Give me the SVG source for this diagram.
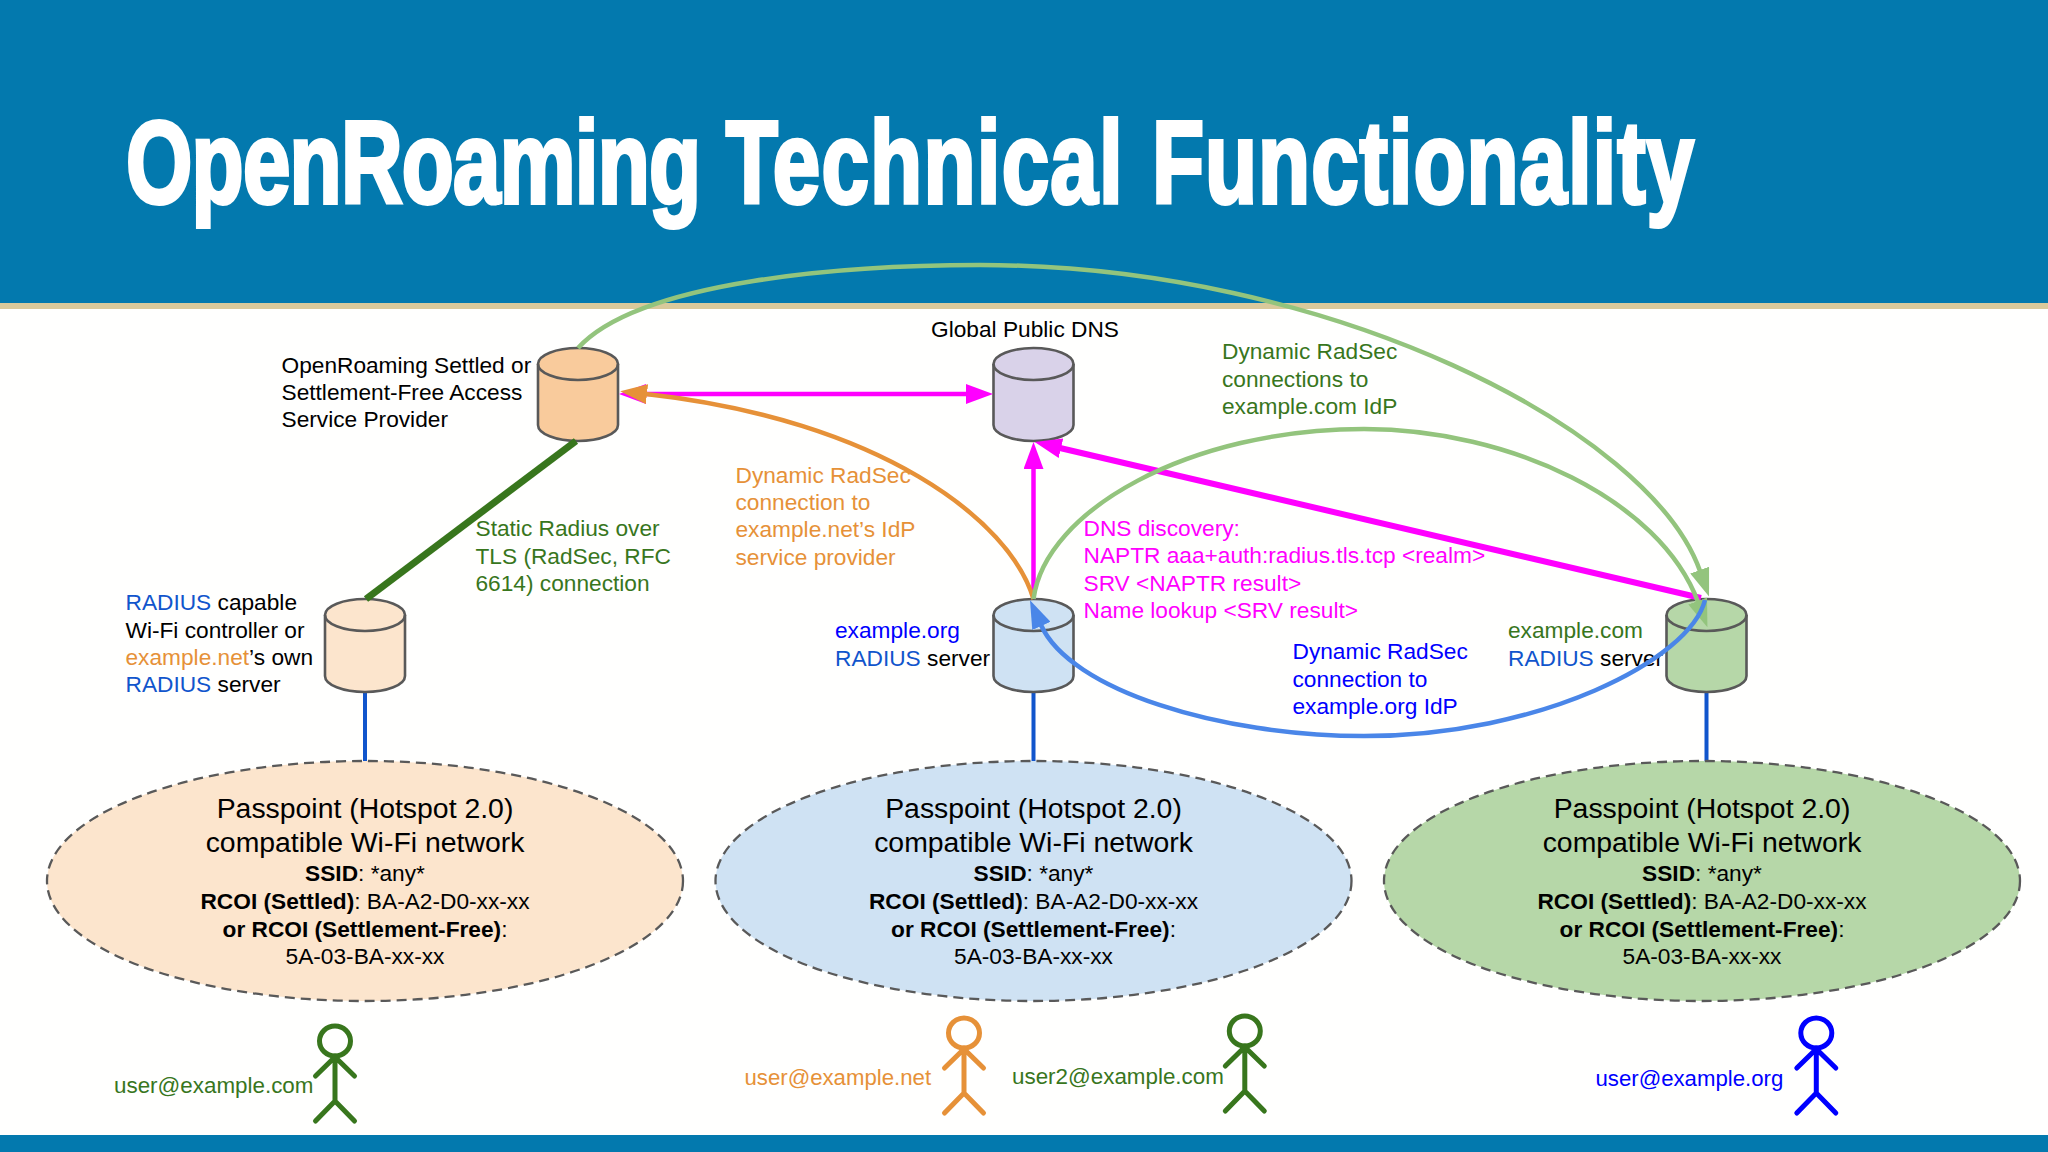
<svg xmlns="http://www.w3.org/2000/svg" width="2048" height="1152" viewBox="0 0 2048 1152">
<style>
text{font-family:"Liberation Sans",Arial,sans-serif;font-size:22.7px;fill:#000}
.title{font-size:116px;font-weight:700;fill:#fff;stroke:#fff;stroke-width:4px}
.big{font-size:28.4px;text-anchor:middle}
.mid{text-anchor:middle}
.b{font-weight:700}
.u{font-size:22.2px}
.uc{font-size:22.4px}
.dg{fill:#38761d}.or{fill:#e69138}.rb{fill:#1155cc}.bl{fill:#0000ff}.mg{fill:#ff00ff}
#cylinder path{stroke:#595959;stroke-width:2.6}
#cylinder .lid{fill:none}
.net{stroke:#595959;stroke-width:2.3;stroke-dasharray:10 6}
#person ellipse,#person path{fill:none;stroke-width:5;stroke-linecap:round}
.arc{fill:none;stroke-width:4.5}
</style>
<defs>
<g id="cylinder"><path d="M-40 16A40 16 0 0 1 40 16V77A40 16 0 0 1-40 77Z"/><path class="lid" d="M-40 16A40 16 0 0 0 40 16"/></g>
<g id="person"><ellipse cx="0" cy="0" rx="15.5" ry="15"/><path d="M0 15V60M-19.500 35L0 16L19.500 35M-19.500 80L0 60L19.500 80"/></g>
<marker id="hMag" markerUnits="userSpaceOnUse" markerWidth="27" markerHeight="20" viewBox="0 0 27 20" refX="1" refY="10" orient="auto-start-reverse"><path d="M0 0L27 10L0 20Z" fill="#ff00ff"/></marker>
<marker id="hOr" markerUnits="userSpaceOnUse" markerWidth="27" markerHeight="20" viewBox="0 0 27 20" refX="1" refY="10" orient="auto"><path d="M0 0L27 10L0 20Z" fill="#e69138"/></marker>
<marker id="hGr" markerUnits="userSpaceOnUse" markerWidth="28" markerHeight="20" viewBox="0 0 28 20" refX="1" refY="10" orient="auto"><path d="M0 0L28 10L0 20Z" fill="#93c47d"/></marker>
<marker id="hBl" markerUnits="userSpaceOnUse" markerWidth="28" markerHeight="20" viewBox="0 0 28 20" refX="1" refY="10" orient="auto"><path d="M0 0L28 10L0 20Z" fill="#4a86e8"/></marker>
</defs>
<rect width="2048" height="1152" fill="#fffffe"/>
<rect width="2048" height="303" fill="#0379ae"/>
<rect y="303" width="2048" height="6" fill="#d9c99b"/>
<rect y="1135" width="2048" height="17" fill="#0379ae"/>
<text id="title" class="title" transform="translate(126 203) scale(.735 1)"><tspan x="0" letter-spacing="-1">OpenRoaming</tspan> <tspan x="816" letter-spacing="1.700">Technical</tspan> <tspan x="1396" letter-spacing="1.300">Functionality</tspan></text>

<g id="connections-static">
<path d="M365 692V762M1033.500 692V762M1706.500 692V762" fill="none" stroke="#1155cc" stroke-width="4"/>
</g>

<g id="provider"><use href="#cylinder" x="578" y="348" fill="#f9cb9c"/>
<text x="281.500" y="373">OpenRoaming Settled or</text><text x="281.500" y="400">Settlement-Free Access</text><text x="281.500" y="427">Service Provider</text></g>
<g id="dns"><use href="#cylinder" x="1033.500" y="348" fill="#d9d2e9"/>
<text class="mid" x="1025" y="337">Global Public DNS</text></g>
<g id="controller"><use href="#cylinder" x="365" y="599" fill="#fce5cd"/>
<text x="125.500" y="610"><tspan class="rb">RADIUS</tspan> capable</text><text x="125.500" y="637.500">Wi-Fi controller or</text><text x="125.500" y="665"><tspan class="or">example.net</tspan>’s own</text><text x="125.500" y="692"><tspan class="rb">RADIUS</tspan> server</text></g>
<g id="org-radius"><use href="#cylinder" x="1033.500" y="599" fill="#cfe2f3"/>
<text x="835" y="638" class="bl">example.org</text><text x="835" y="666"><tspan class="rb">RADIUS</tspan> server</text></g>
<g id="com-radius"><use href="#cylinder" x="1706.500" y="599" fill="#b6d7a8"/>
<text x="1508" y="638" class="dg">example.com</text><text x="1508" y="666"><tspan class="rb">RADIUS</tspan> server</text></g>

<g id="net-net"><ellipse class="net" cx="365" cy="881" rx="318" ry="120" fill="#fce5cd"/>
<text class="big" x="365" y="818">Passpoint (Hotspot 2.0)</text><text class="big" x="365" y="852">compatible Wi-Fi network</text>
<text class="mid" x="365" y="881"><tspan class="b">SSID</tspan>: *any*</text><text class="mid" x="365" y="909"><tspan class="b">RCOI (Settled)</tspan>: BA-A2-D0-xx-xx</text><text class="mid" x="365" y="937"><tspan class="b">or RCOI (Settlement-Free)</tspan>:</text><text class="mid" x="365" y="964">5A-03-BA-xx-xx</text></g>
<g id="net-org"><ellipse class="net" cx="1033.500" cy="881" rx="318" ry="120" fill="#cfe2f3"/>
<text class="big" x="1033.500" y="818">Passpoint (Hotspot 2.0)</text><text class="big" x="1033.500" y="852">compatible Wi-Fi network</text>
<text class="mid" x="1033.500" y="881"><tspan class="b">SSID</tspan>: *any*</text><text class="mid" x="1033.500" y="909"><tspan class="b">RCOI (Settled)</tspan>: BA-A2-D0-xx-xx</text><text class="mid" x="1033.500" y="937"><tspan class="b">or RCOI (Settlement-Free)</tspan>:</text><text class="mid" x="1033.500" y="964">5A-03-BA-xx-xx</text></g>
<g id="net-com"><ellipse class="net" cx="1702" cy="881" rx="318" ry="120" fill="#b6d7a8"/>
<text class="big" x="1702" y="818">Passpoint (Hotspot 2.0)</text><text class="big" x="1702" y="852">compatible Wi-Fi network</text>
<text class="mid" x="1702" y="881"><tspan class="b">SSID</tspan>: *any*</text><text class="mid" x="1702" y="909"><tspan class="b">RCOI (Settled)</tspan>: BA-A2-D0-xx-xx</text><text class="mid" x="1702" y="937"><tspan class="b">or RCOI (Settlement-Free)</tspan>:</text><text class="mid" x="1702" y="964">5A-03-BA-xx-xx</text></g>

<g id="user-com"><use href="#person" x="335" y="1041" stroke="#38761d"/><text class="dg uc" x="114" y="1093">user@example.com</text></g>
<g id="user-net"><use href="#person" x="964" y="1033" stroke="#e69138"/><text class="or u" x="744.500" y="1085">user@example.net</text></g>
<g id="user2-com"><use href="#person" x="1244.800" y="1031" stroke="#38761d"/><text class="dg uc" x="1012" y="1084">user2@example.com</text></g>
<g id="user-org"><use href="#person" x="1816.300" y="1033" stroke="#0000ff"/><text class="bl u" x="1595.500" y="1086">user@example.org</text></g>

<g id="connectors">
<path d="M576 441L366 599" fill="none" stroke="#38761d" stroke-width="7"/>
<path d="M645 394H967" fill="none" stroke="#ff00ff" stroke-width="4.500" marker-start="url(#hMag)" marker-end="url(#hMag)"/>
<path d="M1033.500 599V468" fill="none" stroke="#ff00ff" stroke-width="4.500" marker-end="url(#hMag)"/>
<path d="M1701 598L1060 448" fill="none" stroke="#ff00ff" stroke-width="6" marker-end="url(#hMag)"/>
<path class="arc" d="M1033.500 599C1010 520 880 420 646 394" stroke="#e69138" marker-end="url(#hOr)"/>
<path class="arc" d="M578 348C640 280 850 265 980 265C1330 265 1650 430 1700 571" stroke="#93c47d" marker-end="url(#hGr)"/>
<path class="arc" d="M1033.500 599C1045 510 1190 429 1364 429C1510 429 1660 500 1698 602" stroke="#93c47d" marker-end="url(#hGr)"/>
<path class="arc" d="M1705 600C1690 660 1540 736 1364 736C1220 736 1070 690 1041 625" stroke="#4a86e8" marker-end="url(#hBl)"/>
</g>

<g id="labels">
<text class="dg" x="475.500" y="536">Static Radius over</text><text class="dg" x="475.500" y="563.500">TLS (RadSec, RFC</text><text class="dg" x="475.500" y="591">6614) connection</text>
<text class="or" x="735.500" y="483">Dynamic RadSec</text><text class="or" x="735.500" y="510">connection to</text><text class="or" x="735.500" y="537">example.net’s IdP</text><text class="or" x="735.500" y="565">service provider</text>
<text class="dg" x="1222" y="359">Dynamic RadSec</text><text class="dg" x="1222" y="386.500">connections to</text><text class="dg" x="1222" y="414">example.com IdP</text>
<text class="mg" x="1083.500" y="536">DNS discovery:</text><text class="mg" x="1083.500" y="563">NAPTR aaa+auth:radius.tls.tcp &lt;realm&gt;</text><text class="mg" x="1083.500" y="591">SRV &lt;NAPTR result&gt;</text><text class="mg" x="1083.500" y="618">Name lookup &lt;SRV result&gt;</text>
<text class="bl" x="1292.500" y="659">Dynamic RadSec</text><text class="bl" x="1292.500" y="687">connection to</text><text class="bl" x="1292.500" y="714">example.org IdP</text>
</g>
</svg>
